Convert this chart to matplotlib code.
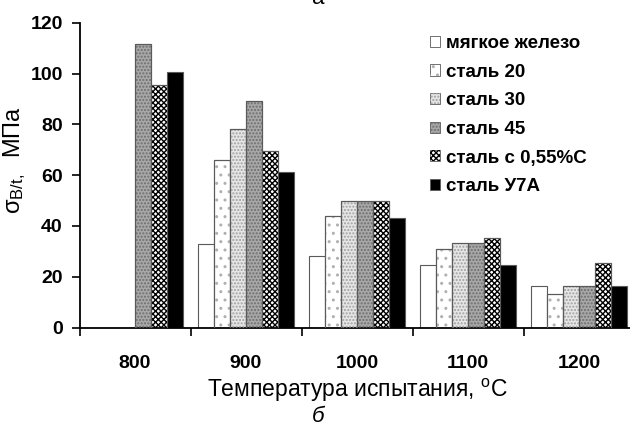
import numpy as np
import matplotlib
matplotlib.use('Agg')
import matplotlib.pyplot as plt
from matplotlib.patches import Patch
from matplotlib.legend_handler import HandlerTuple

plt.rcParams.update({
    'font.family': ['Liberation Sans', 'DejaVu Sans'],
    'mathtext.fontset': 'custom',
    'mathtext.rm': 'Liberation Sans',
    'mathtext.it': 'Liberation Sans:italic',
    'hatch.linewidth': 1.0,
})

temps = ['800', '900', '1000', '1100', '1200']
labels = ['мягкое железо', 'сталь 20', 'сталь 30', 'сталь 45',
          'сталь с 0,55%C', 'сталь У7А']

soft_iron = [np.nan, 33, 28, 24.7, 16.5]
steel20 = [np.nan, 66, 44, 30.8, 13]
steel30 = [np.nan, 78, 49.8, 33.2, 16.5]
steel45 = [111.8, 89, 49.8, 33.2, 16.5]
steel055 = [95.3, 69.5, 49.8, 35.3, 25.5]
steel_u7a = [100.6, 61.3, 43.2, 24.7, 16.5]

series = [soft_iron, steel20, steel30, steel45, steel055, steel_u7a]

# face colour, hatch, hatch colour
styles = [
    ('white', None, None),
    ('white', '..', '#b0b0b0'),
    ('#e6e6e6', '.....', '#a0a0a0'),
    ('#a8a8a8', '.....', '#6e6e6e'),
    ('white', 'xxxxxx', 'black'),
    ('black', None, None),
]

fig = plt.figure(figsize=(6.3, 4.3), dpi=100)
ax = fig.add_axes([79.5 / 630, 102.5 / 430, 555 / 630, 304.8 / 430])

x = np.arange(len(temps))
w = 0.144
handles = []
for i, (vals, (fc, hatch, hc)) in enumerate(zip(series, styles)):
    pos = x + (i - 2.5) * w
    ax.bar(pos, vals, w, color=fc, edgecolor='#5a5a5a', linewidth=0.8, zorder=2)
    if hatch:
        ax.bar(pos, vals, w, fill=False, edgecolor=hc, hatch=hatch,
               linewidth=0, zorder=3)
        ax.bar(pos, vals, w, fill=False, edgecolor='#5a5a5a', linewidth=0.8, zorder=4)
        h = (Patch(facecolor=fc, edgecolor='#5a5a5a', linewidth=0.6),
             Patch(fill=False, edgecolor=hc, hatch=hatch, linewidth=0))
    else:
        h = Patch(facecolor=fc, edgecolor='#5a5a5a', linewidth=0.6)
    handles.append(h)

ax.set_xlim(-0.5, 4.5)
ax.set_ylim(0, 120)
ax.set_yticks(np.arange(0, 121, 20))
ax.set_xticks(x)
ax.set_xticklabels(temps)
ax.set_xticks(np.arange(-0.5, 4.6, 1), minor=True)
ax.tick_params(axis='x', which='major', length=0, pad=20)
ax.tick_params(axis='x', which='minor', length=6, width=1.2, direction='out')
ax.tick_params(axis='y', length=6, width=1.2, pad=6)
for lab in ax.get_xticklabels() + ax.get_yticklabels():
    lab.set_fontsize(14)
    lab.set_fontweight('bold')

for s in ['top', 'right']:
    ax.spines[s].set_visible(False)
for s in ['left', 'bottom']:
    ax.spines[s].set_linewidth(1.3)

ax.set_ylabel(r'$\mathregular{\sigma_{В/t,}}$  МПа', fontsize=17)
ax.yaxis.set_label_coords(-0.093, 0.55)
ax.set_xlabel(r'Температура испытания, $\mathregular{^{o}}$C', fontsize=16.5,
              labelpad=3)

leg = fig.legend(handles, labels, loc='upper left',
                 bbox_to_anchor=(430 / 630, 1 - 35 / 430),
                 frameon=False, borderpad=0, borderaxespad=0,
                 handlelength=0.53, handleheight=0.53, handletextpad=0.32,
                 labelspacing=0.62,
                 handler_map={tuple: HandlerTuple(ndivide=1)},
                 prop={'weight': 'bold', 'size': 13.5})

fig.text(0.505, 1.003, 'а', ha='center', va='center', fontsize=16)
fig.text(0.505, 1 - 417 / 430, 'б', ha='center', va='center', fontsize=16,
         style='italic')

fig.savefig('out.png', dpi=100)
